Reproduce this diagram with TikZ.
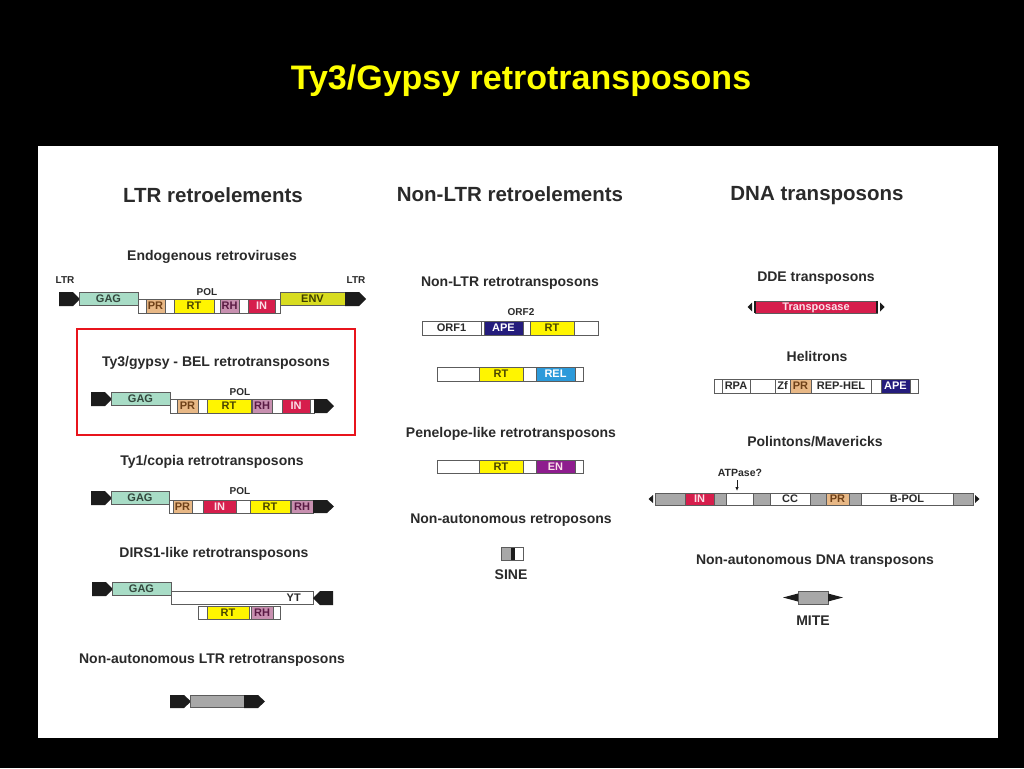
\documentclass[tikz,border=0pt]{standalone}
\usepackage{fontspec}
\setmainfont{Liberation Sans}
\usetikzlibrary{arrows.meta}
\definecolor{gagc}{HTML}{A8DCC6}
\definecolor{gagt}{HTML}{33473D}
\definecolor{prc}{HTML}{E8B886}
\definecolor{prt}{HTML}{6E4018}
\definecolor{rtc}{HTML}{FFF500}
\definecolor{rtt}{HTML}{4A4500}
\definecolor{rhc}{HTML}{C890B0}
\definecolor{rht}{HTML}{5A1A44}
\definecolor{inc}{HTML}{D61E4C}
\definecolor{int}{HTML}{FBE0E8}
\definecolor{envc}{HTML}{D8DC20}
\definecolor{envt}{HTML}{3E3E00}
\definecolor{apec}{HTML}{241C7C}
\definecolor{relc}{HTML}{2C9ADA}
\definecolor{enc}{HTML}{8E1C8E}
\definecolor{grayc}{HTML}{A8A8A8}
\definecolor{ltrc}{HTML}{1C1C1C}
\definecolor{edgec}{HTML}{5C5C5C}
\definecolor{txtc}{HTML}{2A2A2A}
\definecolor{titlec}{HTML}{FFFF00}
\definecolor{redc}{HTML}{E8141C}
\newcommand\bx[7]{\node[seg,#6,minimum width={(#4-#2)*1pt},minimum height={(#5-#3)*1pt}] (#1) at ({(#2+#4)/2},{(#3+#5)/2}) {#7};}
\newcommand\ltrR[4]{\fill[ltrc] (#1,#3) -- ({#2-7},#3) -- (#2,{(#3+#4)/2}) -- ({#2-7},#4) -- (#1,#4) -- cycle;}
\newcommand\ltrL[4]{\fill[ltrc] (#2,#3) -- ({#1+7},#3) -- (#1,{(#3+#4)/2}) -- ({#1+7},#4) -- (#2,#4) -- cycle;}
\tikzset{
 title/.style={font=\bfseries\fontsize{34}{40}\selectfont, text=titlec, inner sep=0},
 head/.style={font=\bfseries\fontsize{20.5}{24}\selectfont, text=txtc, inner sep=0},
 sub/.style={font=\bfseries\fontsize{14}{16}\selectfont, text=txtc, inner sep=0},
 lab/.style={font=\bfseries\fontsize{10}{12}\selectfont, text=txtc, inner sep=0},
 seg/.style={draw=edgec, line width=0.9pt, inner sep=0, outer sep=0, font=\bfseries\fontsize{11}{11}\selectfont, text=txtc, text height=7.9pt, text depth=0pt},
}
\begin{document}
\begin{tikzpicture}[x=1pt,y=-1pt]
\useasboundingbox (0,0) rectangle (1024,768);
\fill[black] (0,0) rectangle (1024,768);
\fill[white] (38,146) rectangle (998,738);
\node[title] (title) at (521,81) {Ty3/Gypsy retrotransposons};
% headings
\node[head] (h1) at (213,195) {LTR retroelements};
\node[head] (h2) at (510,194) {Non-LTR retroelements};
\node[head] (h3) at (817,196) {DNA transposons};
% ---------- LTR column
\node[sub] (s1) at (212,257) {Endogenous retroviruses};
\node[lab] (ltrl) at (65,280) {LTR};
\node[lab] (ltrr) at (356,280) {LTR};
\node[lab] (pol1l) at (207,292) {POL};
\ltrR{59}{80}{292}{306}
\bx{gag1}{79}{292}{138}{305}{fill=gagc,text=gagt}{GAG}
\bx{pol1}{138}{299}{280}{313}{fill=white}{}
\bx{pr1}{146}{299}{165}{313}{fill=prc,text=prt}{PR}
\bx{rt1}{174}{299}{214}{313}{fill=rtc,text=rtt}{RT}
\bx{rh1}{220}{299}{239}{313}{fill=rhc,text=rht}{RH}
\bx{in1}{248}{299}{275}{313}{fill=inc,text=int}{IN}
\bx{env1}{280}{292}{345}{305}{fill=envc,text=envt}{ENV}
\ltrR{345}{366}{292}{306}
% Ty3
\draw[redc, line width=2.5pt] (77,329) rectangle (355,435);
\node[sub] (s2) at (216,363) {Ty3/gypsy - BEL retrotransposons};
\node[lab] (pol2l) at (240,392) {POL};
\ltrR{91}{112}{392}{406}
\bx{gag2}{111}{392}{170}{405}{fill=gagc,text=gagt}{GAG}
\bx{pol2}{170}{399}{314}{413}{fill=white}{}
\bx{pr2}{177}{399}{198}{413}{fill=prc,text=prt}{PR}
\bx{rt2}{207}{399}{251}{413}{fill=rtc,text=rtt}{RT}
\bx{rh2}{252}{399}{272}{413}{fill=rhc,text=rht}{RH}
\bx{in2}{282}{399}{310}{413}{fill=inc,text=int}{IN}
\ltrR{314}{334}{399}{413}
% Ty1
\node[sub] (s3) at (212,462) {Ty1/copia retrotransposons};
\node[lab] (pol3l) at (240,491) {POL};
\ltrR{91}{112}{491}{505}
\bx{gag3}{111}{491}{169}{504}{fill=gagc,text=gagt}{GAG}
\bx{pol3}{169}{500}{313}{513}{fill=white}{}
\bx{pr3}{173}{500}{192}{513}{fill=prc,text=prt}{PR}
\bx{in3}{203}{500}{236}{513}{fill=inc,text=int}{IN}
\bx{rt3}{250}{500}{290}{513}{fill=rtc,text=rtt}{RT}
\bx{rh3}{291}{500}{313}{513}{fill=rhc,text=rht}{RH}
\ltrR{313}{334}{500}{513}
% DIRS1
\node[sub] (s4) at (214,554) {DIRS1-like retrotransposons};
\ltrR{92}{113}{582}{596}
\bx{gag4}{112}{582}{171}{595}{fill=gagc,text=gagt}{GAG}
\bx{yt4}{171}{591}{313}{604}{fill=white}{}
\node[lab, font=\bfseries\fontsize{11}{11}\selectfont, text height=7.9pt, text depth=0pt, anchor=east] (ytl) at (301,597.5) {YT};
\ltrL{313}{333}{591}{605}
\bx{orf4}{198}{606}{280}{619}{fill=white}{}
\bx{rt4}{207}{606}{249}{619}{fill=rtc,text=rtt}{RT}
\bx{rh4}{251}{606}{273}{619}{fill=rhc,text=rht}{RH}
% Non-autonomous LTR
\node[sub] (s5) at (212,660) {Non-autonomous LTR retrotransposons};
\ltrR{170}{191}{695}{708}
\bx{gray5}{190}{695}{244}{707}{fill=grayc}{}
\ltrR{244}{265}{695}{708}
% ---------- Non-LTR column
\node[sub] (m1) at (510,283) {Non-LTR retrotransposons};
\node[lab] (orf2l) at (521,312) {ORF2};
\bx{bar1}{422}{321}{598}{335}{fill=white}{}
\bx{orf1}{422}{321}{481}{335}{fill=white}{ORF1}
\bx{ape1}{484}{321}{523}{335}{fill=apec,text=white}{APE}
\bx{rtm1}{530}{321}{574}{335}{fill=rtc,text=rtt}{RT}
\bx{bar2}{437}{367}{583}{381}{fill=white}{}
\bx{rtm2}{479}{367}{523}{381}{fill=rtc,text=rtt}{RT}
\bx{rel2}{536}{367}{575}{381}{fill=relc,text=white}{REL}
\node[sub] (m2) at (511,434) {Penelope-like retrotransposons};
\bx{bar3}{437}{460}{583}{473}{fill=white}{}
\bx{rtm3}{479}{460}{523}{473}{fill=rtc,text=rtt}{RT}
\bx{en3}{536}{460}{575}{473}{fill=enc,text=int}{EN}
\node[sub] (m3) at (511,520) {Non-autonomous retroposons};
\bx{sine}{501}{547}{523}{560}{fill=white}{}
\fill[grayc] (501.5,547.5) rectangle (511,559.5);
\fill[ltrc] (511,547.5) rectangle (515,559.5);
\draw[edgec, line width=0.9pt] (501,547) rectangle (523,560);
\node[sub] (sinel) at (511,575) {SINE};
% ---------- DNA column
\node[sub] (r1) at (816,278) {DDE transposons};
\bx{tpase}{755}{301}{877}{313}{fill=inc,text=int}{Transposase}
\draw[ltrc, line width=2pt] (755,301) -- (755,313) (877,301) -- (877,313);
\fill[ltrc] (752,302.5) -- (752,311.5) -- (747.5,307) -- cycle;
\fill[ltrc] (880,302.5) -- (880,311.5) -- (884.5,307) -- cycle;
\node[sub] (r2) at (817,356) {Helitrons};
\bx{hel}{714}{379}{918}{393}{fill=white}{}
\bx{rpa}{722}{379}{750}{393}{fill=white}{RPA}
\bx{zf}{775}{379}{790}{393}{fill=white}{Zf}
\bx{prh}{790}{379}{811}{393}{fill=prc,text=prt}{PR}
\bx{rephel}{811}{379}{871}{393}{fill=white}{REP-HEL}
\bx{apeh}{881}{379}{910}{393}{fill=apec,text=white}{APE}
\node[sub] (r3) at (815,442) {Polintons/Mavericks};
\node[lab, font=\bfseries\fontsize{10.5}{12}\selectfont] (atp) at (740,473) {ATPase?};
\coordinate (atpfrom) at (737,480);
\coordinate (atptip) at (737,491);
\draw[ltrc, line width=0.8pt, -{Latex[length=4pt,width=3.5pt]}] (atpfrom) -- (atptip);
\bx{polb}{655}{493}{973}{505}{fill=grayc}{}
\bx{inp}{685}{493}{714}{505}{fill=inc,text=int}{IN}
\bx{atpb}{726}{493}{753}{505}{fill=white}{}
\bx{ccp}{770}{493}{810}{505}{fill=white}{CC}
\bx{prp}{826}{493}{849}{505}{fill=prc,text=prt}{PR}
\bx{bpol}{861}{493}{953}{505}{fill=white}{B-POL}
\fill[ltrc] (653,495) -- (653,503) -- (648.5,499) -- cycle;
\fill[ltrc] (975,495) -- (975,503) -- (979.5,499) -- cycle;
\node[sub] (r4) at (815,561) {Non-autonomous DNA transposons};
\bx{mite}{798}{591}{828}{604}{fill=grayc}{}
\fill[ltrc] (798,593.5) -- (798,601.5) -- (783,597.5) -- cycle;
\fill[ltrc] (828,593.5) -- (828,601.5) -- (843,597.5) -- cycle;
\node[sub] (mitel) at (813,621) {MITE};
\end{tikzpicture}
\end{document}
